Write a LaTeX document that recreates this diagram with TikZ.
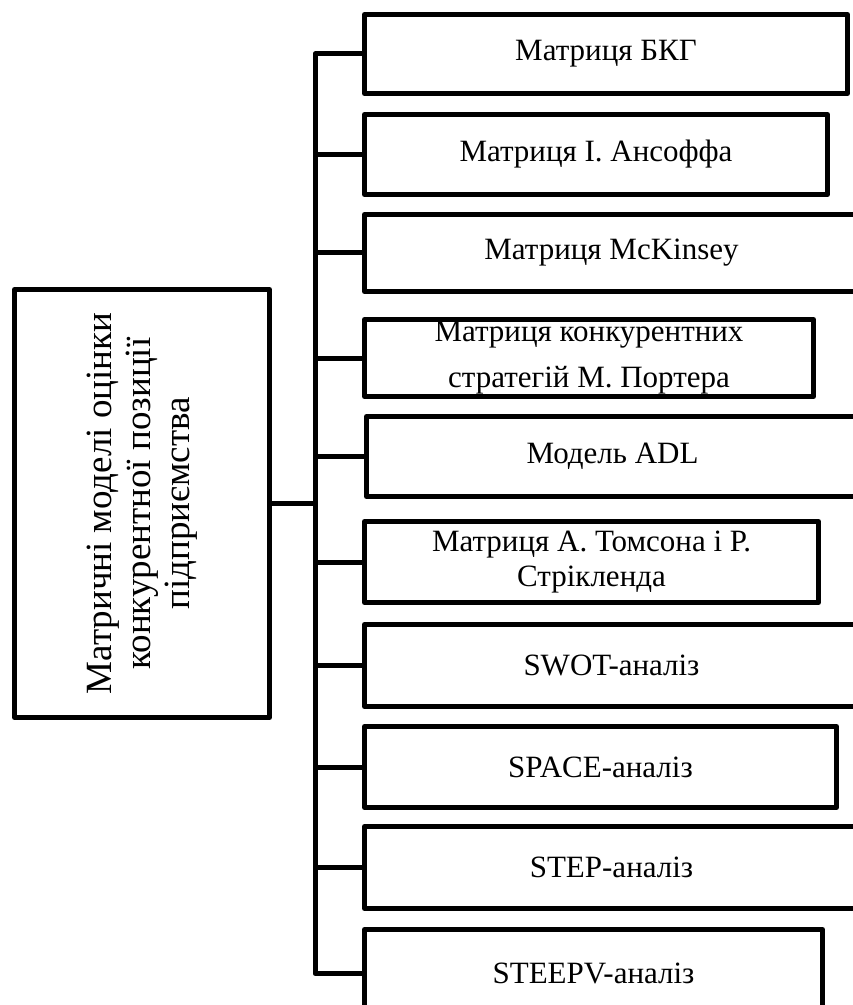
\documentclass[tikz,border=0pt]{standalone}
\usepackage{fontspec}
\setmainfont{Liberation Serif}
\usetikzlibrary{positioning,calc}
\tikzset{
  itembox/.style={draw,line width=2.5pt,line join=round,anchor=north west,inner sep=0pt,
    align=center,font=\fontsize{15.5}{17.5}\selectfont},
  maintext/.style={font=\fontsize{18.5}{19.5}\selectfont,align=center,inner sep=0pt,rotate=90},
  link/.style={line width=2.5pt,line join=round}
}
\begin{document}
\begin{tikzpicture}[x=0.5pt,y=-0.5pt]
        \useasboundingbox (0,0) rectangle (852,1005);
        % main box
        \node[itembox,minimum width=127.5pt,minimum height=214pt] at (12,287) (main) {};
        \node[maintext] at (main.center) (mainlabel) {Матричні моделі оцінки\\конкурентної позиції\\підприємства};
        % model boxes
        \node[itembox,minimum width=241.5pt,minimum height=39.5pt] at (362,12)  (b1) {Матриця БКГ};
        \node[itembox,minimum width=231.5pt,minimum height=40pt]   at (362,112) (b2) {Матриця І. Ансоффа};
        \node[itembox,minimum width=247pt,minimum height=38.5pt]   at (362,212) (b3) {Матриця McKinsey};
        \node[itembox,minimum width=224.5pt,minimum height=38.5pt,
              font=\fontsize{15.5}{23}\selectfont]                 at (362,317) (b4) {Матриця конкурентних\\стратегій М. Портера};
        \node[itembox,minimum width=246pt,minimum height=40pt]     at (364,414) (b5) {Модель ADL};
        \node[itembox,minimum width=227pt,minimum height=40.5pt]   at (362,519) (b6) {Матриця А. Томсона і Р.\\Стрікленда};
        \node[itembox,minimum width=247pt,minimum height=41pt]     at (362,622) (b7) {SWOT-аналіз};
        \node[itembox,minimum width=236pt,minimum height=40.5pt]   at (362,724) (b8) {SPACE-аналіз};
        \node[itembox,minimum width=247pt,minimum height=41pt]     at (362,824) (b9) {STEP-аналіз};
        \node[itembox,minimum width=229pt,minimum height=44pt]     at (362,927) (b10) {STEEPV-аналіз};
        % connectors
        \coordinate (trunk) at (315,0);
        \draw[link] (main.east) -- (main.east -| trunk);
        \draw[link] (b1.west) -- (b1.west -| trunk) -- (b10.west -| trunk) -- (b10.west);
        \foreach \i in {2,...,9}
            \draw[link] (b\i.west) -- (b\i.west -| trunk);
    \end{tikzpicture}
\end{document}
